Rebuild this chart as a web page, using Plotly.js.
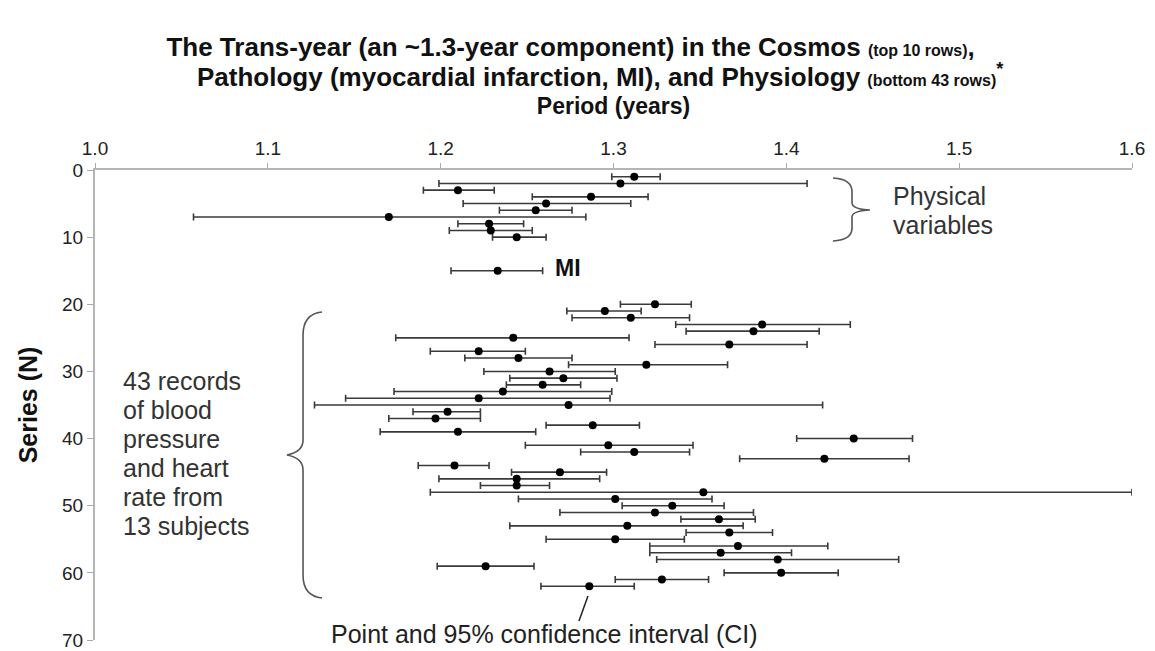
<!DOCTYPE html>
<html>
<head>
<meta charset="utf-8">
<script src="https://cdn.plot.ly/plotly-3.0.1.min.js"></script>
<style>
html,body{margin:0;padding:0;background:#fff;}
#chart{width:1155px;height:651px;}
</style>
</head>
<body>
<div id="chart"></div>
<script>
// ---- Data ----
const physRows   = [1, 2, 3, 4, 5, 6, 7, 8, 9, 10];
const physPeriod = [1.312, 1.304, 1.210, 1.287, 1.261, 1.255, 1.170, 1.228, 1.229, 1.244];
const physLow    = [1.299, 1.199, 1.190, 1.253, 1.213, 1.234, 1.057, 1.210, 1.205, 1.230];
const physHigh   = [1.327, 1.412, 1.231, 1.320, 1.310, 1.276, 1.284, 1.248, 1.253, 1.261];

const miRows   = [15];
const miPeriod = [1.233];
const miLow    = [1.206];
const miHigh   = [1.259];

const bpRows = [20,21,22,23,24,25,26,27,28,29,30,31,32,33,34,35,36,37,38,39,40,41,42,43,44,45,46,47,48,49,50,51,52,53,54,55,56,57,58,59,60,61,62];
const bpPeriod = [1.324,1.295,1.310,1.386,1.381,1.242,1.367,1.222,1.245,1.319,1.263,1.271,1.259,1.236,1.222,1.274,1.204,1.197,1.288,1.210,1.439,1.297,1.312,1.422,1.208,1.269,1.244,1.244,1.352,1.301,1.334,1.324,1.361,1.308,1.367,1.301,1.372,1.362,1.395,1.226,1.397,1.328,1.286];
const bpLow    = [1.304,1.273,1.276,1.336,1.342,1.174,1.324,1.194,1.214,1.274,1.225,1.240,1.238,1.173,1.145,1.127,1.184,1.170,1.261,1.165,1.406,1.249,1.281,1.373,1.187,1.241,1.199,1.223,1.194,1.245,1.305,1.269,1.339,1.240,1.342,1.261,1.321,1.321,1.325,1.198,1.364,1.301,1.258];
const bpHigh   = [1.345,1.316,1.344,1.437,1.419,1.309,1.412,1.249,1.276,1.366,1.301,1.302,1.281,1.299,1.298,1.421,1.223,1.223,1.315,1.255,1.473,1.346,1.344,1.471,1.228,1.296,1.292,1.263,1.600,1.357,1.364,1.381,1.382,1.375,1.392,1.341,1.424,1.403,1.465,1.254,1.430,1.355,1.312];

const xTickVals = [1.0, 1.1, 1.2, 1.3, 1.4, 1.5, 1.6];
const xTickText = ['1.0', '1.1', '1.2', '1.3', '1.4', '1.5', '1.6'];
const yTickVals = [0, 10, 20, 30, 40, 50, 60, 70];

const titleLine1 = 'The Trans-year (an ~1.3-year component) in the Cosmos';
const titleNote1 = '(top 10 rows)';
const titleLine2 = 'Pathology (myocardial infarction, MI), and Physiology';
const titleNote2 = '(bottom 43 rows)';
const physLabel = ['Physical', 'variables'];
const bpLabel = ['43 records', 'of blood', 'pressure', 'and heart', 'rate from', '13 subjects'];
const ciLabel = 'Point and 95% confidence interval (CI)';

// ---- Traces ----
function ciTrace(name, rows, period, low, high) {
  return {
    type: 'scatter', mode: 'markers', name: name,
    x: period, y: rows,
    marker: {color: '#000', size: 8, symbol: 'circle'},
    error_x: {
      type: 'data', symmetric: false,
      array: high.map((h, i) => h - period[i]),
      arrayminus: low.map((l, i) => period[i] - l),
      color: '#3a3a3a', thickness: 1.6, width: 3.5
    },
    hoverinfo: 'x+y', showlegend: false
  };
}
const traces = [
  ciTrace('Physical variables', physRows, physPeriod, physLow, physHigh),
  ciTrace('MI', miRows, miPeriod, miLow, miHigh),
  ciTrace('Blood pressure / heart rate', bpRows, bpPeriod, bpLow, bpHigh)
];

// ---- Layout helpers (pixel -> paper) ----
const L = 95, R = 23, T = 170, B = 11, W = 1155, H = 651;
const PW = W - L - R, PH = H - T - B;
function px(x) { return +((x - L) / PW).toFixed(4); }
function py(y) { return +((H - B - y) / PH).toFixed(4); }
function pt(x, y) { return px(x) + ',' + py(y); }

const braceRight = 'M ' + pt(833,178) + ' Q ' + pt(852,179) + ' ' + pt(852,192) +
  ' L ' + pt(852,203) + ' Q ' + pt(852,209) + ' ' + pt(870,210) +
  ' Q ' + pt(852,211) + ' ' + pt(852,217) + ' L ' + pt(852,228) +
  ' Q ' + pt(852,240) + ' ' + pt(833,241);
const braceLeft = 'M ' + pt(322,312) + ' Q ' + pt(303,314) + ' ' + pt(303,335) +
  ' L ' + pt(303,440) + ' Q ' + pt(303,452) + ' ' + pt(287,455) +
  ' Q ' + pt(303,458) + ' ' + pt(303,470) + ' L ' + pt(303,575) +
  ' Q ' + pt(303,596) + ' ' + pt(322,598);

const fontMain = 'Liberation Sans, Arial, sans-serif';
const txtColor = '#333';

const annotations = [];
// second title line
annotations.push({xref: 'paper', yref: 'paper', x: px(600), y: py(75), xanchor: 'center', yanchor: 'middle', showarrow: false,
  text: '<b>' + titleLine2 + ' <span style="font-size:16px">' + titleNote2 + '</span><sup style="font-size:13px">*</sup></b>',
  font: {family: fontMain, size: 26, color: '#111'}});
physLabel.forEach((t, i) => annotations.push({xref: 'paper', yref: 'paper', x: px(891), y: py(196 + 29 * i),
  xanchor: 'left', yanchor: 'middle', showarrow: false, text: t, font: {family: fontMain, size: 25, color: txtColor}}));
bpLabel.forEach((t, i) => annotations.push({xref: 'paper', yref: 'paper', x: px(121), y: py(381 + 29 * i),
  xanchor: 'left', yanchor: 'middle', showarrow: false, text: t, font: {family: fontMain, size: 25, color: txtColor}}));
annotations.push({xref: 'paper', yref: 'paper', x: px(553), y: py(268), xanchor: 'left', yanchor: 'middle', showarrow: false,
  text: '<b>MI</b>', font: {family: fontMain, size: 23, color: '#111'}});
annotations.push({xref: 'paper', yref: 'paper', x: px(544), y: py(634), xanchor: 'center', yanchor: 'middle', showarrow: false,
  text: ciLabel, font: {family: fontMain, size: 25, color: '#222'}});

const layout = {
  width: W, height: H,
  margin: {l: L, r: R, t: T, b: B, pad: 0},
  paper_bgcolor: '#fff', plot_bgcolor: '#fff',
  showlegend: false,
  title: {
    text: '<b>' + titleLine1 + ' <span style="font-size:16px">' + titleNote1 + '</span>,</b>',
    font: {family: fontMain, size: 26, color: '#111'},
    x: 0.494, xanchor: 'center', xref: 'container',
    y: 1 - 47 / H, yanchor: 'middle', yref: 'container'
  },
  xaxis: {
    side: 'top', range: [1.0, 1.6],
    tickmode: 'array', tickvals: xTickVals, ticktext: xTickText,
    ticks: 'outside', ticklen: 5, tickcolor: '#aaa', tickwidth: 1,
    showline: true, linecolor: '#b5b5b5', linewidth: 2,
    showgrid: false, zeroline: false,
    tickfont: {family: fontMain, size: 19, color: '#222'},
    title: {text: '<b>Period (years)</b>', font: {family: fontMain, size: 23, color: '#111'}, standoff: 17},
    fixedrange: true
  },
  yaxis: {
    range: [70, 0],
    tickmode: 'array', tickvals: yTickVals,
    ticks: 'outside', ticklen: 6, tickcolor: '#aaa', tickwidth: 1,
    showline: true, linecolor: '#b5b5b5', linewidth: 2,
    showgrid: false, zeroline: false,
    tickfont: {family: fontMain, size: 19, color: '#222'},
    title: {text: '<b>Series (N)</b>', font: {family: fontMain, size: 25, color: '#111'}, standoff: 17},
    fixedrange: true
  },
  shapes: [
    {type: 'path', xref: 'paper', yref: 'paper', path: braceRight, line: {color: '#555', width: 1.6}},
    {type: 'path', xref: 'paper', yref: 'paper', path: braceLeft, line: {color: '#555', width: 1.6}},
    {type: 'line', xref: 'paper', yref: 'paper', x0: px(588), y0: py(596), x1: px(579), y1: py(621), line: {color: '#222', width: 1.5}}
  ],
  annotations: annotations
};

Plotly.newPlot('chart', traces, layout, {displayModeBar: false, staticPlot: true});
</script>
</body>
</html>
